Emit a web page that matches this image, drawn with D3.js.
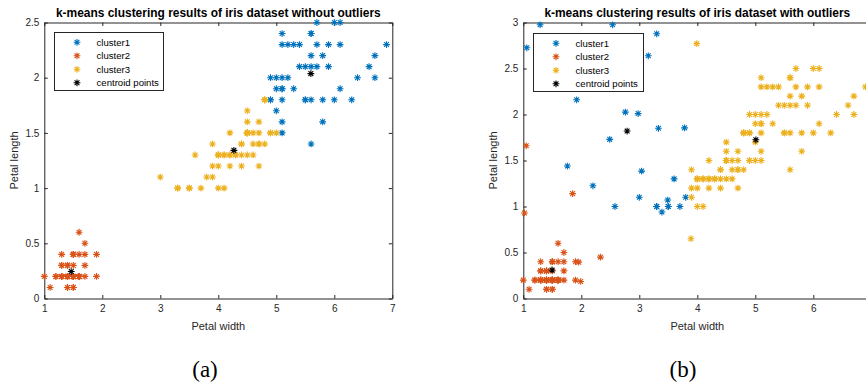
<!DOCTYPE html>
<html>
<head>
<meta charset="utf-8">
<script src="https://cdn.jsdelivr.net/npm/d3@7"></script>
<style>
  body { margin: 0; background: #fff; }
  svg { display: block; }
</style>
</head>
<body>
<svg id="fig" width="866" height="385"></svg>
<script>
// Iris petal measurements (setosa, versicolor, virginica; 50 each).
// Plotted with the first column along x and the second along y.
const petalX = [
  1.4,1.4,1.3,1.5,1.4,1.7,1.4,1.5,1.4,1.5,1.5,1.6,1.4,1.1,1.2,1.5,1.3,1.4,1.7,1.5,1.7,1.5,1.0,1.7,1.9,
  1.6,1.6,1.5,1.4,1.6,1.6,1.5,1.5,1.4,1.5,1.2,1.3,1.4,1.3,1.5,1.3,1.3,1.3,1.6,1.9,1.4,1.6,1.4,1.5,1.4,
  4.7,4.5,4.9,4.0,4.6,4.5,4.7,3.3,4.6,3.9,3.5,4.2,4.0,4.7,3.6,4.4,4.5,4.1,4.5,3.9,4.8,4.0,4.9,4.7,4.3,
  4.4,4.8,5.0,4.5,3.5,3.8,3.7,3.9,5.1,4.5,4.5,4.7,4.4,4.1,4.0,4.4,4.6,4.0,3.3,4.2,4.2,4.2,4.3,3.0,4.1,
  6.0,5.1,5.9,5.6,5.8,6.6,4.5,6.3,5.8,6.1,5.1,5.3,5.5,5.0,5.1,5.3,5.5,6.7,6.9,5.0,5.7,4.9,6.7,4.9,5.7,
  6.0,4.8,4.9,5.6,5.8,6.1,6.4,5.6,5.1,5.6,6.1,5.6,5.5,4.8,5.4,5.6,5.1,5.1,5.9,5.7,5.2,5.0,5.2,5.4,5.1
];
const petalY = [
  0.2,0.2,0.2,0.2,0.2,0.4,0.3,0.2,0.2,0.1,0.2,0.2,0.1,0.1,0.2,0.4,0.4,0.3,0.3,0.3,0.2,0.4,0.2,0.5,0.2,
  0.2,0.4,0.2,0.2,0.2,0.2,0.4,0.1,0.2,0.2,0.2,0.2,0.1,0.2,0.2,0.3,0.3,0.2,0.6,0.4,0.3,0.2,0.2,0.2,0.2,
  1.4,1.5,1.5,1.3,1.5,1.3,1.6,1.0,1.3,1.4,1.0,1.5,1.0,1.4,1.3,1.4,1.5,1.0,1.5,1.1,1.8,1.3,1.5,1.2,1.3,
  1.4,1.4,1.7,1.5,1.0,1.1,1.0,1.2,1.6,1.5,1.6,1.5,1.3,1.3,1.3,1.2,1.4,1.2,1.0,1.3,1.2,1.3,1.3,1.1,1.3,
  2.5,1.9,2.1,1.8,2.2,2.1,1.7,1.8,1.8,2.5,2.0,1.9,2.1,2.0,2.4,2.3,1.8,2.2,2.3,1.5,2.3,2.0,2.0,1.8,2.1,
  1.8,1.8,1.8,2.1,1.6,1.9,2.0,2.2,1.5,1.4,2.3,2.4,1.8,1.8,2.1,2.4,2.3,1.9,2.3,2.5,2.3,1.9,2.0,2.3,1.8
];

// Cluster index of each point (1, 2, 3) without outliers
const clusterA = [
  2,2,2,2,2,2,2,2,2,2,2,2,2,2,2,2,2,2,2,2,2,2,2,2,2,
  2,2,2,2,2,2,2,2,2,2,2,2,2,2,2,2,2,2,2,2,2,2,2,2,2,
  3,3,3,3,3,3,3,3,3,3,3,3,3,3,3,3,3,3,3,3,3,3,3,3,3,
  3,3,1,3,3,3,3,3,1,3,3,3,3,3,3,3,3,3,3,3,3,3,3,3,3,
  1,1,1,1,1,1,3,1,1,1,1,1,1,1,1,1,1,1,1,3,1,1,1,1,1,
  1,3,1,1,1,1,1,1,1,1,1,1,1,3,1,1,1,1,1,1,1,1,1,1,1
];
// Cluster index of each point when the outliers are included
const clusterB = [
  2,2,2,2,2,2,2,2,2,2,2,2,2,2,2,2,2,2,2,2,2,2,2,2,2,
  2,2,2,2,2,2,2,2,2,2,2,2,2,2,2,2,2,2,2,2,2,2,2,2,2,
  3,3,3,3,3,3,3,1,3,3,1,3,3,3,1,3,3,3,3,3,3,3,3,3,3,
  3,3,3,3,1,1,1,3,3,3,3,3,3,3,3,3,3,3,1,3,3,3,3,1,3,
  3,3,3,3,3,3,3,3,3,3,3,3,3,3,3,3,3,3,3,3,3,3,3,3,3,
  3,3,3,3,3,3,3,3,3,3,3,3,3,3,3,3,3,3,3,3,3,3,3,3,3
];

// Added outlier points and their clusters
const outlierX = [1.05,1.02,1.85,2.33,1.99,1.955,
  1.06,1.29,2.54,3.30,3.155,1.92,2.76,2.98,3.33,2.49,3.78,1.76,2.20,2.58,3.04,3.39,3.49,
  3.99,3.89];
const outlierY = [1.66,0.93,1.14,0.45,0.185,0.395,
  2.725,2.975,2.975,2.877,2.638,2.16,2.026,2.01,1.85,1.73,1.855,1.44,1.225,1.0,1.385,0.94,1.07,
  2.77,0.65];
const outlierCluster = [2,2,2,2,2,2,
  1,1,1,1,1,1,1,1,1,1,1,1,1,1,1,1,1,
  3,3];

// Centroids
const centroidAX = [1.464, 4.269, 5.596];
const centroidAY = [0.244, 1.342, 2.037];
const centroidBX = [1.495, 2.79, 5.01];
const centroidBY = [0.31, 1.82, 1.725];

const legendLabels = ["cluster1", "cluster2", "cluster3", "centroid points"];
const clusterColors = ["#0072BD", "#D95319", "#EDB120"];
const centroidColor = "#000000";

const xTicksA = [1, 2, 3, 4, 5, 6, 7];
const xTicksB = [1, 2, 3, 4, 5, 6];
const yTicksA = [0, 0.5, 1, 1.5, 2, 2.5];
const yTicksB = [0, 0.5, 1, 1.5, 2, 2.5, 3];

const FONT = "'Liberation Sans', Arial, Helvetica, sans-serif";
const AXIS_COLOR = "#262626";

const svg = d3.select("#fig");
svg.append("rect").attr("width", 866).attr("height", 385).attr("fill", "#fff");

// Asterisk marker: '+' and 'x' overlaid
const asterisk = {
  draw(ctx, size) {
    const r = Math.sqrt(size) / 2;
    const d = r * Math.SQRT1_2;
    ctx.moveTo(-r, 0); ctx.lineTo(r, 0);
    ctx.moveTo(0, -r); ctx.lineTo(0, r);
    ctx.moveTo(-d, -d); ctx.lineTo(d, d);
    ctx.moveTo(-d, d); ctx.lineTo(d, -d);
  }
};
const starPath = d3.symbol().type(asterisk).size(46)();

function drawPanel(cfg) {
  const x = d3.scaleLinear().domain(cfg.xDomain).range([cfg.left, cfg.right]);
  const y = d3.scaleLinear().domain(cfg.yDomain).range([cfg.bottom, cfg.top]);
  const g = svg.append("g");
  const tick = 3.5;

  const styleAxis = sel => {
    sel.select(".domain").attr("stroke", AXIS_COLOR).attr("stroke-width", 1);
    sel.selectAll(".tick line").attr("stroke", AXIS_COLOR).attr("stroke-width", 1);
    sel.selectAll(".tick text").attr("fill", AXIS_COLOR)
      .attr("font-family", FONT).attr("font-size", 10);
  };

  g.append("g").attr("transform", `translate(0,${cfg.bottom})`)
    .call(d3.axisBottom(x).tickValues(cfg.xTicks).tickFormat(d3.format("d"))
      .tickSizeInner(-tick).tickSizeOuter(0).tickPadding(6))
    .call(styleAxis);
  g.append("g").attr("transform", `translate(0,${cfg.top})`)
    .call(d3.axisTop(x).tickValues(cfg.xTicks).tickFormat("")
      .tickSizeInner(-tick).tickSizeOuter(0))
    .call(styleAxis);
  g.append("g").attr("transform", `translate(${cfg.left},0)`)
    .call(d3.axisLeft(y).tickValues(cfg.yTicks).tickFormat(d3.format("~g"))
      .tickSizeInner(-tick).tickSizeOuter(0).tickPadding(5))
    .call(styleAxis);
  g.append("g").attr("transform", `translate(${cfg.right},0)`)
    .call(d3.axisRight(y).tickValues(cfg.yTicks).tickFormat("")
      .tickSizeInner(-tick).tickSizeOuter(0))
    .call(styleAxis);

  // data points, drawn cluster by cluster, then the centroids
  for (let c = 1; c <= 3; c++) {
    g.append("g").selectAll("path")
      .data(cfg.points.filter(p => p.c === c))
      .join("path")
      .attr("d", starPath)
      .attr("transform", p => `translate(${x(p.x)},${y(p.y)})`)
      .attr("fill", "none")
      .attr("stroke", clusterColors[c - 1])
      .attr("stroke-width", 1.1);
  }
  g.append("g").selectAll("path")
    .data(cfg.centroids)
    .join("path")
    .attr("d", starPath)
    .attr("transform", p => `translate(${x(p.x)},${y(p.y)})`)
    .attr("fill", "none")
    .attr("stroke", centroidColor)
    .attr("stroke-width", 1.1);

  // title
  const cx = (cfg.left + cfg.right) / 2;
  const title = g.append("text")
    .attr("x", cx).attr("y", 16.5)
    .attr("text-anchor", "middle")
    .attr("font-family", FONT).attr("font-weight", "bold")
    .attr("font-size", 11).attr("fill", "#000")
    .text(cfg.title);
  const tw = title.node().getComputedTextLength();
  title.attr("font-size", 11 * cfg.titleWidth / tw);

  // axis labels
  g.append("text")
    .attr("x", cx).attr("y", 330)
    .attr("text-anchor", "middle")
    .attr("font-family", FONT).attr("font-size", 11).attr("fill", AXIS_COLOR)
    .text("Petal width");
  g.append("text")
    .attr("transform", `translate(${cfg.left - 26},${(cfg.top + cfg.bottom) / 2}) rotate(-90)`)
    .attr("text-anchor", "middle")
    .attr("font-family", FONT).attr("font-size", 11).attr("fill", AXIS_COLOR)
    .text("Petal length");

  // legend
  const lg = g.append("g").attr("transform", `translate(${cfg.legendX},${cfg.legendY})`);
  lg.append("rect")
    .attr("x", 0.5).attr("y", 0.5).attr("width", cfg.legendW).attr("height", 58)
    .attr("fill", "#fff").attr("stroke", AXIS_COLOR).attr("stroke-width", 1);
  legendLabels.forEach((label, i) => {
    const yy = 10.3 + i * 13.5;
    lg.append("path").attr("d", starPath)
      .attr("transform", `translate(23,${yy})`)
      .attr("fill", "none")
      .attr("stroke", i < 3 ? clusterColors[i] : centroidColor)
      .attr("stroke-width", 1.1);
    lg.append("text").attr("x", 42.5).attr("y", yy + 3.4)
      .attr("font-family", FONT).attr("font-size", 9.6).attr("fill", "#000")
      .text(label);
  });

  // panel caption
  svg.append("text")
    .attr("x", cfg.captionX).attr("y", 377)
    .attr("text-anchor", "middle")
    .attr("font-family", "'Liberation Serif', 'DejaVu Serif', serif")
    .attr("font-size", 23).attr("fill", "#000")
    .text(cfg.caption);
}

const pointsA = petalX.map((v, i) => ({ x: v, y: petalY[i], c: clusterA[i] }));
const pointsB = petalX.map((v, i) => ({ x: v, y: petalY[i], c: clusterB[i] }))
  .concat(outlierX.map((v, i) => ({ x: v, y: outlierY[i], c: outlierCluster[i] })));

drawPanel({
  xDomain: [1, 7], yDomain: [0, 2.5], xTicks: xTicksA, yTicks: yTicksA,
  left: 44.3, right: 392.3, top: 22.5, bottom: 298.5,
  points: pointsA,
  centroids: centroidAX.map((v, i) => ({ x: v, y: centroidAY[i] })),
  title: "k-means clustering results of iris dataset without outliers",
  titleWidth: 325,
  legendX: 54, legendY: 32, legendW: 109,
  caption: "(a)", captionX: 205
});

drawPanel({
  xDomain: [1, 7], yDomain: [0, 3], xTicks: xTicksB, yTicks: yTicksB,
  left: 523.3, right: 871.3, top: 22.5, bottom: 298.5,
  points: pointsB,
  centroids: centroidBX.map((v, i) => ({ x: v, y: centroidBY[i] })),
  title: "k-means clustering results of iris dataset with outliers",
  titleWidth: 306,
  legendX: 533, legendY: 33, legendW: 110,
  caption: "(b)", captionX: 683
});
</script>
</body>
</html>
